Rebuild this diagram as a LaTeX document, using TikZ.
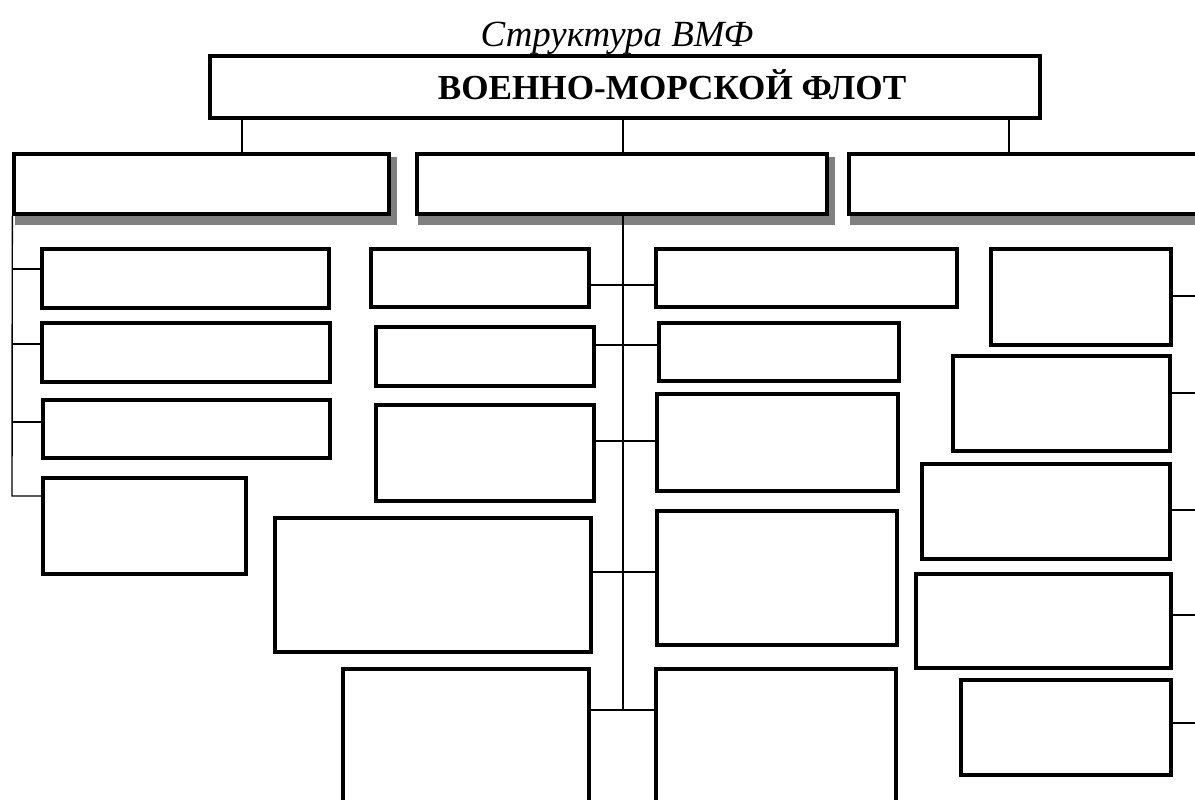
\documentclass[tikz,border=0pt]{standalone}
\usepackage{fontspec}
\setmainfont{Liberation Serif}
\usetikzlibrary{fit,backgrounds}
\definecolor{shadowgray}{gray}{0.5}
\tikzset{
  x=0.02cm, y=-0.02cm,
  box/.style={draw=black, fill=white, line width=1.9pt, inner sep=0pt, rectangle},
  conn/.style={draw=black, line width=0.8pt},
  shade/.style={fill=shadowgray}
}
\newcommand{\mybox}[5]{\coordinate (#1-a) at (#2,#3); \coordinate (#1-b) at (#4,#5);
  \node[box, fit={(#1-a) (#1-b)}] (#1) {};}
\begin{document}
\begin{tikzpicture}
\clip (0,0) rectangle (1195,800);
% title
\node[anchor=base, inner sep=0pt] (title) at (617,47) {\fontsize{21}{24}\selectfont\itshape Структура ВМФ};
% top box
\mybox{top}{210}{56}{1040}{118}
\node[anchor=base, inner sep=0pt] (toptext) at (672,100) {\fontsize{20}{24}\selectfont\bfseries ВОЕННО-МОРСКОЙ ФЛОТ};
% level 2
\mybox{A}{14}{154}{389}{214}
\mybox{B}{417}{154}{827}{214}
\mybox{C}{849}{154}{1240}{214}
\begin{scope}[on background layer]
  \fill[white] (0,0) rectangle (1195,800);
  \fill[shade] ([shift={(3,5)}]A.north west) rectangle ([shift={(6,9)}]A.south east);
  \fill[shade] ([shift={(3,5)}]B.north west) rectangle ([shift={(6,9)}]B.south east);
  \fill[shade] ([shift={(3,5)}]C.north west) rectangle ([shift={(6,9)}]C.south east);
\end{scope}
% left column
\mybox{L1}{42}{249}{329}{308}
\mybox{L2}{42}{323}{330}{382}
\mybox{L3}{43}{400}{330}{458}
\mybox{L4}{43}{478}{246}{574}
% center left
\mybox{CL1}{371}{249}{589}{307}
\mybox{CL2}{376}{327}{594}{386}
\mybox{CL3}{376}{405}{594}{501}
\mybox{CL4}{275}{518}{591}{652}
\mybox{CL5}{343}{669}{589}{840}
% center right
\mybox{CR1}{656}{249}{957}{307}
\mybox{CR2}{659}{323}{899}{381}
\mybox{CR3}{657}{394}{898}{491}
\mybox{CR4}{657}{511}{897}{645}
\mybox{CR5}{656}{669}{896}{840}
% right column
\mybox{R1}{991}{249}{1171}{345}
\mybox{R2}{953}{356}{1170}{451}
\mybox{R3}{922}{464}{1170}{559}
\mybox{R4}{916}{574}{1171}{668}
\mybox{R5}{961}{680}{1171}{775}
% top connectors
\coordinate (t1) at (242,0);
\coordinate (t2) at (623,0);
\coordinate (t3) at (1009,0);
\draw[conn] (top.south -| t1) -- (A.north -| t1);
\draw[conn] (top.south -| t2) -- (B.north -| t2);
\draw[conn] (top.south -| t3) -- (C.north -| t3);
% left trunk
\coordinate (lb1) at (12,269);
\coordinate (lb2) at (12,344);
\coordinate (lb3) at (12,422);
\coordinate (lb4) at (12,496);
\draw[conn] (A.south west) -- (lb4) -- (lb4 -| L4.west);
\draw[conn] (lb1) -- (lb1 -| L1.west);
\draw[conn] (lb2) -- (lb2 -| L2.west);
\draw[conn] (lb3) -- (lb3 -| L3.west);
% center trunk
\coordinate (cb1) at (623,285);
\coordinate (cb2) at (623,345);
\coordinate (cb3) at (623,441);
\coordinate (cb4) at (623,572);
\coordinate (cb5) at (623,710);
\draw[conn] (B.south -| cb5) -- (cb5);
\draw[conn] (cb1 -| CL1.east) -- (cb1 -| CR1.west);
\draw[conn] (cb2 -| CL2.east) -- (cb2 -| CR2.west);
\draw[conn] (cb3 -| CL3.east) -- (cb3 -| CR3.west);
\draw[conn] (cb4 -| CL4.east) -- (cb4 -| CR4.west);
\draw[conn] (cb5 -| CL5.east) -- (cb5 -| CR5.west);
% right stubs
\coordinate (rb1) at (1205,296);
\coordinate (rb2) at (1205,393);
\coordinate (rb3) at (1205,510);
\coordinate (rb4) at (1205,615);
\coordinate (rb5) at (1205,723);
\draw[conn] (rb1 -| R1.east) -- (rb1);
\draw[conn] (rb2 -| R2.east) -- (rb2);
\draw[conn] (rb3 -| R3.east) -- (rb3);
\draw[conn] (rb4 -| R4.east) -- (rb4);
\draw[conn] (rb5 -| R5.east) -- (rb5);
\end{tikzpicture}
\end{document}
